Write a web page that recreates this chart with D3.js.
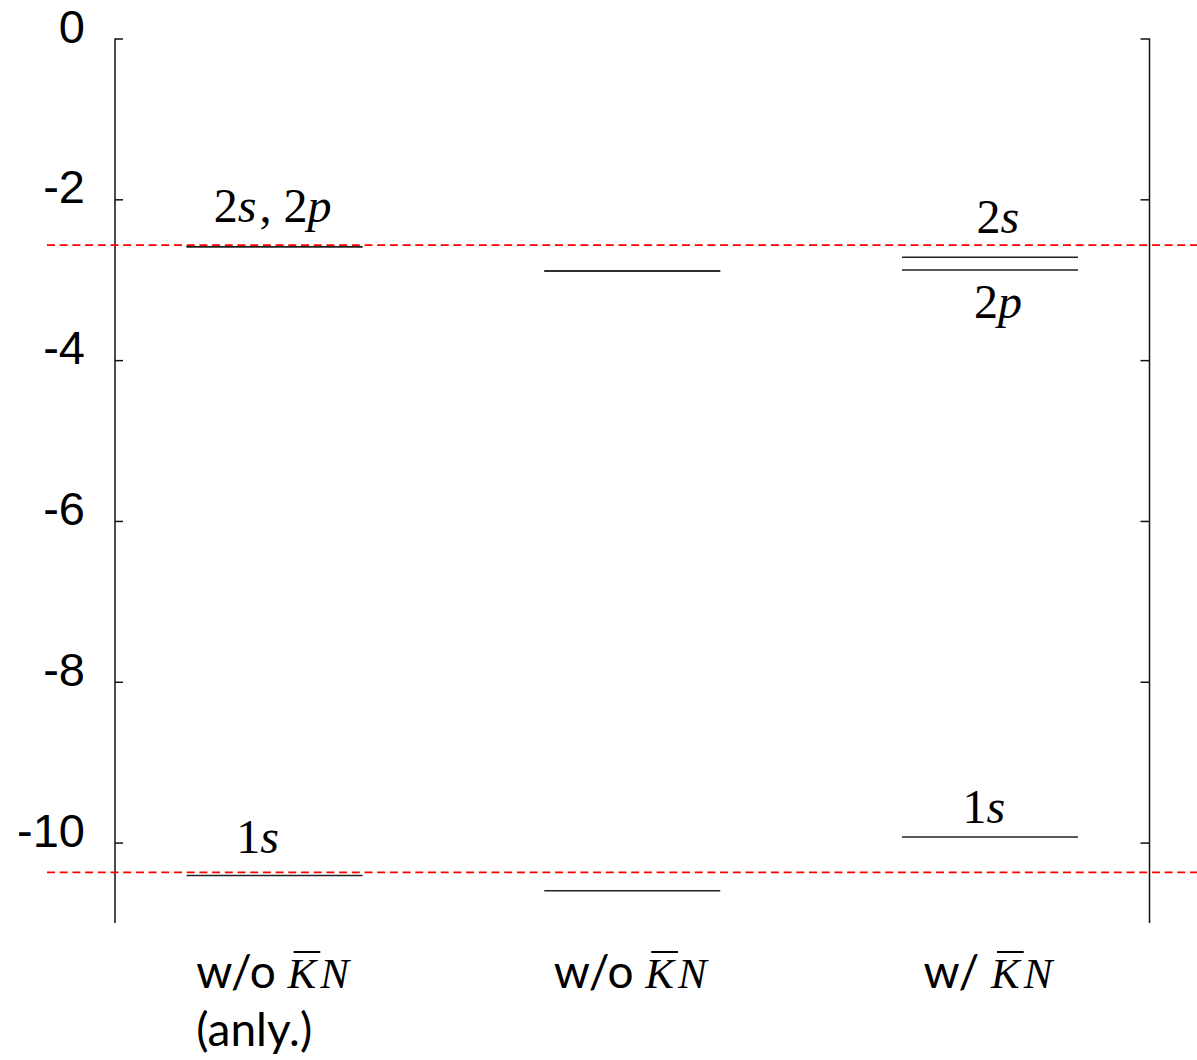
<!DOCTYPE html>
<html>
<head>
<meta charset="utf-8">
<script src="https://cdn.jsdelivr.net/npm/d3@7"></script>
<style>
  body { margin: 0; background: #fff; }
  svg { display: block; }
</style>
</head>
<body>
<svg width="1197" height="1060"></svg>
<script>
// energy levels (MeV)
const columns = ["anly", "woKN", "wKN"];
const level1s = [-10.41, -10.60, -9.93];
const level2s = [-2.59, -2.89, -2.72];
const level2p = [-2.59, -2.89, -2.88];
const refEnergies = [-2.57, -10.37];
const yTicks = [0, -2, -4, -6, -8, -10];

// level annotations: column, text pieces (odd ones italic), level it sits on
const levelLabels = [
	{ col: "anly", parts: ["2", "s", ", 2", "p"], value: level2s[0] },
	{ col: "anly", parts: ["1", "s"], value: level1s[0] },
	{ col: "wKN", parts: ["2", "s"], value: level2s[2] },
	{ col: "wKN", parts: ["2", "p"], value: level2p[2] },
	{ col: "wKN", parts: ["1", "s"], value: level1s[2] }
];

const svg = d3.select("svg");
const width = +svg.attr("width");

const margin = { left: 115, right: 47.5, top: 38.5 };
const plotRight = width - margin.right;

const yScale = d3.scaleLinear()
	.domain([0, -11])
	.range([margin.top, 923]);

const xScale = d3.scaleBand()
	.domain(columns)
	.range([margin.left, plotRight])
	.paddingInner(0.508)
	.paddingOuter(0.2);

// left axis, ticks pointing inward
const leftAxis = svg.append("g")
	.attr("transform", `translate(${margin.left},0)`)
	.call(d3.axisRight(yScale).tickValues(yTicks).tickSize(8).tickFormat(""));
leftAxis.select(".domain").attr("d", `M0,${yScale(0)}V${yScale(-11)}`);

// right axis, ticks pointing inward
const rightAxis = svg.append("g")
	.attr("transform", `translate(${plotRight},0)`)
	.call(d3.axisLeft(yScale).tickValues(yTicks).tickSize(9).tickFormat(""));
rightAxis.select(".domain").attr("d", `M0,${yScale(0)}V${yScale(-11)}`);

svg.selectAll(".domain, .tick line")
	.attr("stroke", "#111")
	.attr("stroke-width", 1.5);

// tick labels
svg.append("g").selectAll("text").data(yTicks)
	.enter().append("text")
		.attr("x", 85)
		.attr("y", d => yScale(d) + 4)
		.attr("text-anchor", "end")
		.attr("font-family", "Liberation Sans, Arial, sans-serif")
		.attr("font-size", 47)
		.attr("fill", "#000")
		.text(d => d);

// reference dashed lines
svg.append("g").selectAll("line").data(refEnergies)
	.enter().append("line")
		.attr("x1", 47)
		.attr("x2", width)
		.attr("y1", d => yScale(d))
		.attr("y2", d => yScale(d))
		.attr("stroke", "#ff0000")
		.attr("stroke-width", 1.6)
		.attr("stroke-dasharray", "8,4.7");

// level lines
const levels = [];
columns.forEach((c, i) => {
	levels.push({ col: c, value: level1s[i] });
	levels.push({ col: c, value: level2s[i] });
	levels.push({ col: c, value: level2p[i] });
});

svg.append("g").selectAll("line").data(levels)
	.enter().append("line")
		.attr("x1", d => xScale(d.col))
		.attr("x2", d => xScale(d.col) + xScale.bandwidth())
		.attr("y1", d => yScale(d.value))
		.attr("y2", d => yScale(d.value))
		.attr("stroke", "#222")
		.attr("stroke-width", 1.5);

// level labels, nudged like in the original slide
const nudge = [[-2, -25], [-17, -23], [8, -24], [8, 48], [-6, -14]];
const lbl = svg.append("g").selectAll("text").data(levelLabels)
	.enter().append("text")
		.attr("x", (d, i) => xScale(d.col) + xScale.bandwidth() / 2 + nudge[i][0])
		.attr("y", (d, i) => yScale(d.value) + nudge[i][1])
		.attr("text-anchor", "middle")
		.attr("font-family", "Liberation Serif, serif")
		.attr("font-size", 48)
		.attr("fill", "#000");
lbl.each(function(d) {
	const t = d3.select(this);
	d.parts.forEach((p, i) => {
		t.append("tspan")
			.attr("font-style", i % 2 === 1 ? "italic" : "normal")
			.attr("dx", i === 2 ? 3 : 0)
			.text(p);
	});
});

// category labels
const catLines = [
	["w/o ", "(anly.)"],
	["w/o ", null],
	["w/ ", null]
];
columns.forEach((c, i) => {
	const cx = xScale(c) + xScale.bandwidth() / 2 - 2;
	const t = svg.append("text")
		.attr("x", cx)
		.attr("y", 988)
		.attr("text-anchor", "middle")
		.attr("fill", "#000");
	t.append("tspan")
		.attr("font-family", "Lato, sans-serif")
		.attr("font-size", 46)
		.text(catLines[i][0]);
	t.append("tspan")
		.attr("font-family", "Liberation Serif, serif")
		.attr("font-style", "italic")
		.attr("font-size", 43)
		.text("K");
	t.append("tspan")
		.attr("font-family", "Liberation Serif, serif")
		.attr("font-style", "italic")
		.attr("font-size", 43)
		.attr("dx", 4)
		.text("N");
	// bar over K
	const kIdx = catLines[i][0].length;
	const node = t.node();
	const k0 = node.getStartPositionOfChar(kIdx).x;
	const k1 = node.getEndPositionOfChar(kIdx).x;
	svg.append("line")
		.attr("x1", k0 + 6)
		.attr("x2", k1 + 4)
		.attr("y1", 952)
		.attr("y2", 952)
		.attr("stroke", "#000")
		.attr("stroke-width", 2);
	if (catLines[i][1]) {
		const bb = node.getBBox();
		svg.append("text")
			.attr("x", bb.x)
			.attr("y", 1046)
			.attr("font-family", "Lato, sans-serif")
			.attr("font-size", 46)
			.attr("fill", "#000")
			.text(catLines[i][1]);
	}
});
</script>
</body>
</html>
